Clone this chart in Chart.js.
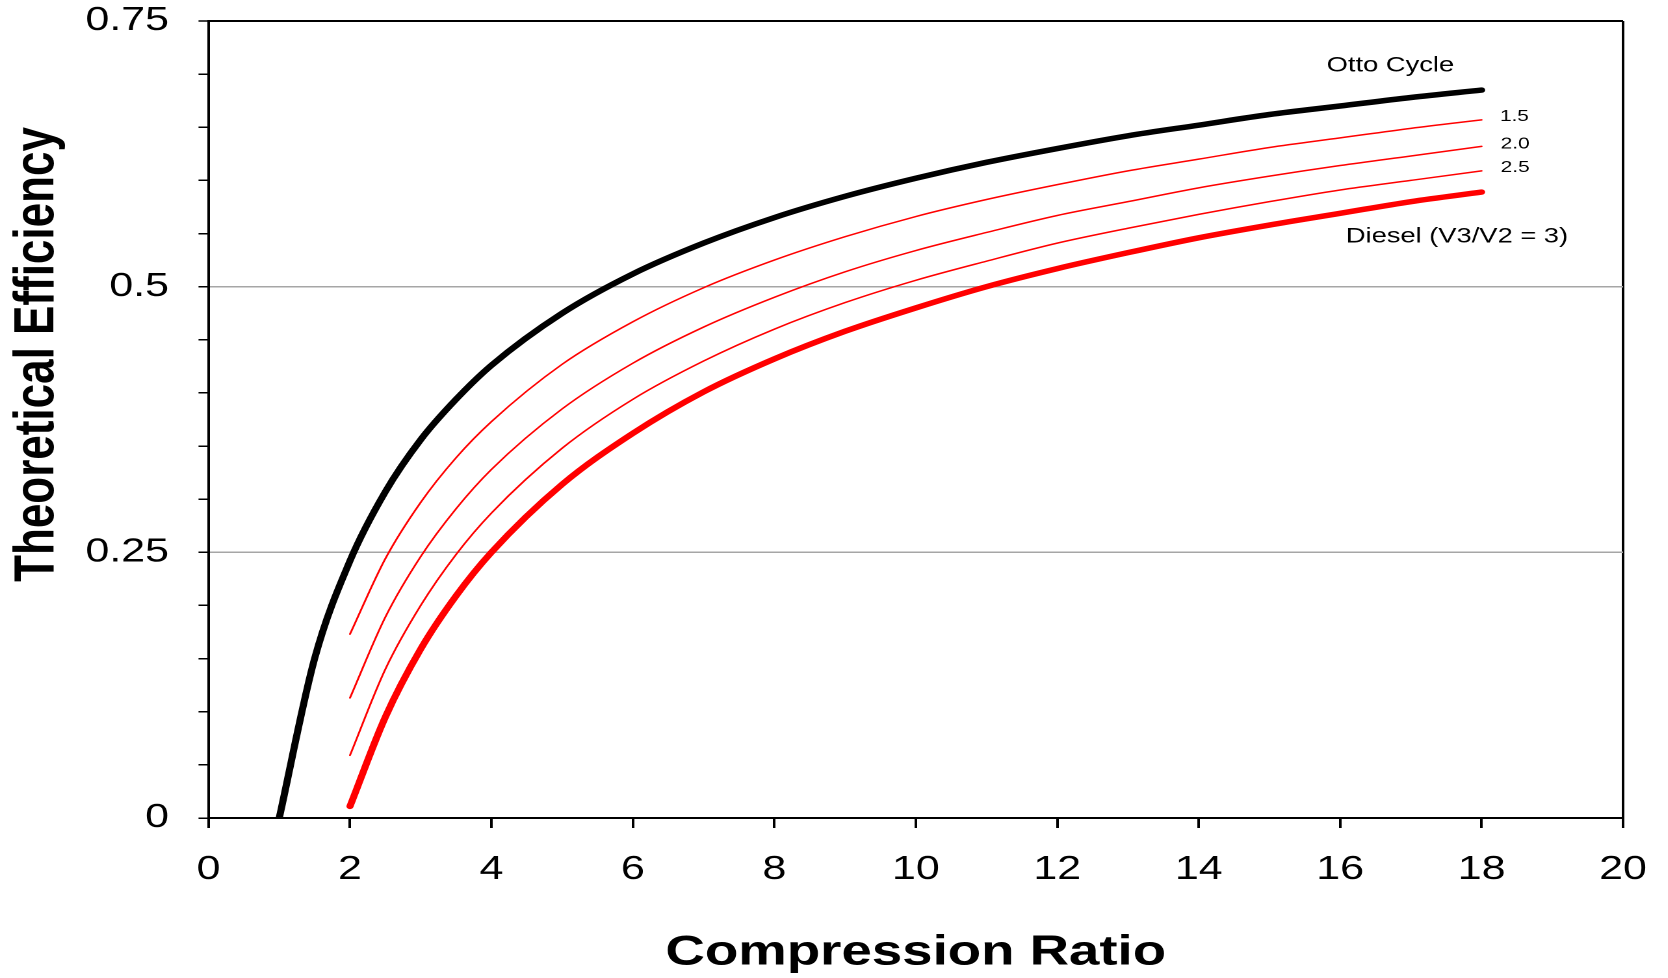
<!DOCTYPE html>
<html>
<head>
<meta charset="utf-8">
<script src="https://cdn.jsdelivr.net/npm/chart.js@4/dist/chart.umd.min.js"></script>
<style>
  html, body { margin: 0; padding: 0; background: #fff; overflow: hidden; }
  #wrap { position: absolute; left: 0; top: 0; width: 1283px; height: 978px; transform: scaleX(1.3); transform-origin: 0 0; }
</style>
</head>
<body>
<div id="wrap"><canvas id="c"></canvas></div>
<script>
// ---- data ----
const ottoRatio = [1, 1.5, 2, 2.5, 3, 3.5, 4, 5, 6, 7, 8, 9, 10, 11, 12, 13, 14, 15, 16, 17, 18];
const ottoEfficiency = [0, 0.150, 0.242, 0.307, 0.356, 0.394, 0.426, 0.475, 0.512, 0.541, 0.565, 0.585, 0.602, 0.617, 0.630, 0.642, 0.652, 0.662, 0.670, 0.678, 0.685];

const dieselRatio = [2, 2.5, 3, 3.5, 4, 5, 6, 7, 8, 9, 10, 11, 12, 13, 14, 15, 16, 17, 18];
const diesel15 = [0.173, 0.244, 0.297, 0.339, 0.373, 0.427, 0.467, 0.499, 0.525, 0.547, 0.566, 0.582, 0.596, 0.609, 0.620, 0.631, 0.640, 0.649, 0.657];
const diesel20 = [0.113, 0.189, 0.246, 0.291, 0.328, 0.385, 0.428, 0.462, 0.490, 0.514, 0.534, 0.551, 0.567, 0.580, 0.593, 0.604, 0.614, 0.623, 0.632];
const diesel25 = [0.059, 0.140, 0.200, 0.248, 0.287, 0.348, 0.394, 0.430, 0.460, 0.485, 0.506, 0.524, 0.541, 0.555, 0.568, 0.580, 0.591, 0.600, 0.609];
const diesel30 = [0.011, 0.095, 0.159, 0.209, 0.250, 0.314, 0.362, 0.401, 0.432, 0.458, 0.480, 0.500, 0.517, 0.532, 0.546, 0.558, 0.569, 0.580, 0.589];

const xTickLabels = ['0', '2', '4', '6', '8', '10', '12', '14', '16', '18', '20'];
const yTickLabels = ['0', '0.25', '0.5', '0.75'];

const xTitle = 'Compression Ratio';
const yTitle = 'Theoretical Efficiency';

const seriesLabels = [
  { text: 'Otto Cycle', x: 15.81, y: 0.708, size: 21 },
  { text: '1.5', x: 18.26, y: 0.660, size: 16 },
  { text: '2.0', x: 18.27, y: 0.634, size: 16 },
  { text: '2.5', x: 18.27, y: 0.612, size: 16 },
  { text: 'Diesel (V3/V2 = 3)', x: 16.08, y: 0.547, size: 21 }
];

const pts = (xs, ys) => xs.map((x, i) => ({ x: x, y: ys[i] }));
const FONT = '"Liberation Sans", Arial, sans-serif';

const annotate = {
  id: 'annotate',
  afterDatasetsDraw(chart) {
    const { ctx, scales: { x, y } } = chart;
    ctx.save();
    ctx.fillStyle = '#000';
    ctx.textAlign = 'left';
    ctx.textBaseline = 'middle';
    seriesLabels.forEach(l => {
      ctx.font = l.size + 'px ' + FONT;
      ctx.fillText(l.text, x.getPixelForValue(l.x), y.getPixelForValue(l.y));
    });
    // y axis title
    ctx.font = 'bold 44px ' + FONT;
    ctx.textAlign = 'center';
    ctx.translate(29, 354.5);
    ctx.rotate(-Math.PI / 2);
    ctx.fillText(yTitle, 0, 0);
    ctx.restore();
  }
};

new Chart(document.getElementById('c'), {
  type: 'line',
  data: {
    datasets: [
      { data: pts(ottoRatio, ottoEfficiency), borderColor: '#000', borderWidth: 5.5 },
      { data: pts(dieselRatio, diesel15), borderColor: '#ff0000', borderWidth: 1.5 },
      { data: pts(dieselRatio, diesel20), borderColor: '#ff0000', borderWidth: 1.5 },
      { data: pts(dieselRatio, diesel25), borderColor: '#ff0000', borderWidth: 1.5 },
      { data: pts(dieselRatio, diesel30), borderColor: '#ff0000', borderWidth: 5.5 }
    ]
  },
  options: {
    responsive: true,
    maintainAspectRatio: false,
    animation: false,
    devicePixelRatio: 2,
    layout: { padding: { left: 0, right: 34.5, top: 21, bottom: 0 } },
    elements: {
      point: { radius: 0, hoverRadius: 0 },
      line: { cubicInterpolationMode: 'monotone', borderCapStyle: 'round', borderJoinStyle: 'round', fill: false }
    },
    plugins: { legend: { display: false }, tooltip: { enabled: false } },
    scales: {
      x: {
        type: 'linear', min: 0, max: 20,
        afterFit: s => { s.height = 160; s.paddingLeft = 0; s.paddingRight = 0; },
        border: { display: true, color: '#000', width: 2 },
        grid: {
          color: c => (c.tick && c.tick.value === 20) ? '#000' : 'rgba(0,0,0,0)',
          lineWidth: 2,
          tickColor: '#000', tickLength: 10, tickWidth: 2
        },
        ticks: {
          stepSize: 2, autoSkip: false, maxRotation: 0, padding: 22,
          color: '#000', font: { family: FONT, size: 33 },
          callback: v => xTickLabels[Math.round(v / 2)]
        },
        title: {
          display: true, text: xTitle, color: '#000',
          font: { family: FONT, size: 42, weight: 'bold' },
          padding: { top: 0, bottom: 0 }
        }
      },
      y: {
        type: 'linear', min: 0, max: 0.75,
        afterFit: s => { s.width = 160.4; s.paddingTop = 0; s.paddingBottom = 0; },
        border: { display: true, color: '#000', width: 2 },
        grid: {
          color: c => {
            const k = Math.round(c.tick.value * 100);
            if (k === 75) return '#000';
            if (k === 25 || k === 50) return '#a6a6a6';
            return 'rgba(0,0,0,0)';
          },
          lineWidth: c => Math.round(c.tick.value * 100) === 75 ? 2 : 1.5,
          tickColor: '#000', tickLength: 7.7, tickWidth: 1.5
        },
        ticks: {
          stepSize: 0.05, autoSkip: false, padding: 22.7,
          color: '#000', font: { family: FONT, size: 33 },
          callback: v => {
            const k = Math.round(v * 100);
            return k % 25 === 0 ? yTickLabels[k / 25] : '';
          }
        }
      }
    }
  },
  plugins: [annotate]
});
</script>
</body>
</html>
